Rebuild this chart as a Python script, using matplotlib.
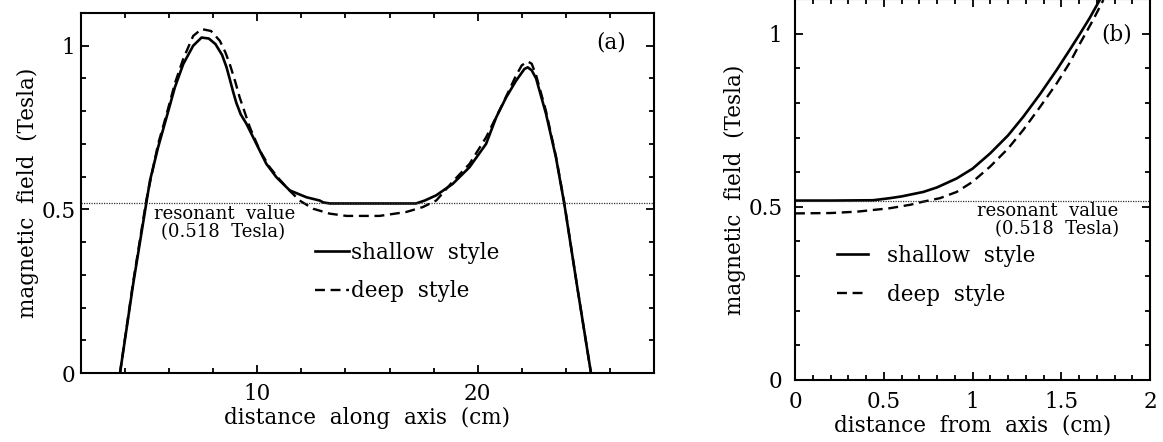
import matplotlib
matplotlib.use("Agg")
import matplotlib.pyplot as plt
from matplotlib.ticker import MultipleLocator, FixedLocator, FixedFormatter

plt.rcParams['font.family'] = ['DejaVu Serif']

# Field along the axis (panel a), cm vs Tesla
axial_x_shallow = [3.77, 4.37, 4.97, 5.13, 5.50, 5.88, 6.26, 6.64, 7.09, 7.47, 7.80, 8.10,
                   8.40, 8.60, 8.75, 8.90, 9.05, 9.25, 9.51, 9.96, 10.41, 10.87, 11.47,
                   12.23, 12.83, 13.0, 13.3, 17.2, 17.6, 18.12, 18.87, 19.63, 20.38, 20.84,
                   21.29, 21.74, 22.12, 22.27, 22.45, 22.65, 23.10, 23.55, 23.93, 24.5, 25.14]
axial_b_shallow = [0.0, 0.273, 0.522, 0.588, 0.690, 0.781, 0.873, 0.944, 1.0, 1.025, 1.022, 1.005,
                   0.972, 0.935, 0.898, 0.860, 0.825, 0.790, 0.761, 0.700, 0.639, 0.598, 0.558,
                   0.537, 0.527, 0.521, 0.518, 0.518, 0.527, 0.543, 0.578, 0.629, 0.700, 0.781,
                   0.842, 0.893, 0.929, 0.934, 0.925, 0.900, 0.792, 0.659, 0.517, 0.27, 0.0]

axial_x_deep = [3.77, 4.37, 4.97, 5.50, 5.88, 6.26, 6.64, 7.09, 7.47, 7.90, 8.30, 8.55, 8.75,
                9.0, 9.20, 9.66, 10.11, 10.56, 11.0, 11.5, 11.92, 12.53, 13.28, 14.04, 15.55,
                16.76, 17.51, 18.12, 18.87, 19.63, 20.38, 21.13, 21.74, 22.0, 22.27,
                22.45, 22.65, 23.10, 23.55, 23.93, 24.5, 25.14]
axial_b_deep = [0.0, 0.28, 0.53, 0.70, 0.79, 0.885, 0.96, 1.03, 1.051, 1.045, 1.015, 0.980, 0.944,
                0.890, 0.842, 0.751, 0.680, 0.629, 0.592, 0.555, 0.527, 0.502, 0.487, 0.480, 0.480,
                0.492, 0.507, 0.527, 0.585, 0.639, 0.720, 0.822, 0.909, 0.940, 0.952,
                0.945, 0.910, 0.800, 0.662, 0.520, 0.27, 0.0]

# Field versus radius (panel b), cm vs Tesla
radial_r_shallow = [0.0, 0.2, 0.44, 0.535, 0.6, 0.723, 0.8, 0.911, 1.0, 1.099, 1.2,
                    1.286, 1.38, 1.474, 1.55, 1.606, 1.66, 1.72]
radial_b_shallow = [0.518, 0.518, 0.519, 0.525, 0.530, 0.543, 0.556, 0.582, 0.610, 0.654,
                    0.706, 0.760, 0.825, 0.895, 0.955, 1.0, 1.045, 1.10]

radial_r_deep = [0.0, 0.2, 0.35, 0.535, 0.65, 0.723, 0.817, 0.911, 1.0, 1.099, 1.2,
                 1.286, 1.38, 1.474, 1.55, 1.606, 1.68, 1.737]
radial_b_deep = [0.481, 0.482, 0.486, 0.496, 0.506, 0.515, 0.525, 0.543, 0.572, 0.616,
                 0.668, 0.722, 0.788, 0.856, 0.918, 0.972, 1.04, 1.097]

resonant_b = 0.518
series_labels = ["shallow  style", "deep  style"]

FS = 15.5
DASH = (0, (4.2, 2.4))

fig = plt.figure(figsize=(11.63, 4.42), dpi=100)
ax_a = fig.add_axes([81 / 1163, 69 / 442, 573 / 1163, 360 / 442])
ax_b = fig.add_axes([795 / 1163, 62 / 442, 355 / 1163, 381 / 442])


def style_axes(ax):
    for s in ax.spines.values():
        s.set_linewidth(1.5)
    ax.tick_params(which='both', direction='in', top=True, right=True,
                   width=1.3, labelsize=FS)
    ax.tick_params(which='major', length=6)
    ax.tick_params(which='minor', length=3.5)


# ---- panel (a)
style_axes(ax_a)
la, = ax_a.plot(axial_x_shallow, axial_b_shallow, color='black', lw=1.9)
lb, = ax_a.plot(axial_x_deep, axial_b_deep, color='black', lw=1.7, linestyle=DASH)
ax_a.axhline(resonant_b, color='#333333', lw=0.9, linestyle=(0, (1, 1)))
ax_a.set_xlim(2, 28)
ax_a.set_ylim(0, 1.1)
ax_a.xaxis.set_major_locator(MultipleLocator(10))
ax_a.xaxis.set_minor_locator(MultipleLocator(2))
ax_a.yaxis.set_major_locator(FixedLocator([0, 0.5, 1]))
ax_a.yaxis.set_major_formatter(FixedFormatter(["0", "0.5", "1"]))
ax_a.yaxis.set_minor_locator(MultipleLocator(0.1))
ax_a.tick_params(axis='x', which='major', pad=7.5)
ax_a.tick_params(axis='y', which='major', pad=4)
ax_a.set_xlabel("distance  along  axis  (cm)", fontsize=FS, labelpad=1)
ax_a.set_ylabel("magnetic  field  (Tesla)", fontsize=FS, labelpad=2)
ax_a.text(8.5, 0.487, "resonant  value", fontsize=13, ha='center', va='center')
ax_a.text(8.45, 0.431, "(0.518  Tesla)", fontsize=13, ha='center', va='center')
ax_a.text(0.926, 0.917, "(a)", transform=ax_a.transAxes, fontsize=FS,
          ha='center', va='center')
ax_a.legend([la, lb], series_labels, loc='upper left', bbox_to_anchor=(0.408, 0.365),
            frameon=False, handlelength=1.6, handletextpad=0.1, labelspacing=0.78,
            borderpad=0, borderaxespad=0, fontsize=FS)

# ---- panel (b)
style_axes(ax_b)
lc, = ax_b.plot(radial_r_shallow, radial_b_shallow, color='black', lw=1.9)
ld, = ax_b.plot(radial_r_deep, radial_b_deep, color='black', lw=1.7, linestyle=DASH)
ax_b.axhline(resonant_b, color='#333333', lw=0.9, linestyle=(0, (1, 1)))
ax_b.set_xlim(0, 2)
ax_b.set_ylim(0, 1.1)
ax_b.xaxis.set_major_locator(FixedLocator([0, 0.5, 1, 1.5, 2]))
ax_b.xaxis.set_major_formatter(FixedFormatter(["0", "0.5", "1", "1.5", "2"]))
ax_b.xaxis.set_minor_locator(MultipleLocator(0.1))
ax_b.yaxis.set_major_locator(FixedLocator([0, 0.5, 1]))
ax_b.yaxis.set_major_formatter(FixedFormatter(["0", "0.5", "1"]))
ax_b.yaxis.set_minor_locator(MultipleLocator(0.1))
ax_b.tick_params(axis='x', which='major', pad=8)
ax_b.tick_params(axis='y', which='major', pad=9)
ax_b.set_xlabel("distance  from  axis  (cm)", fontsize=FS, labelpad=1)
ax_b.set_ylabel("magnetic  field  (Tesla)", fontsize=FS, labelpad=2)
ax_b.text(1.423, 0.488, "resonant  value", fontsize=13, ha='center', va='center')
ax_b.text(1.479, 0.437, "(0.518  Tesla)", fontsize=13, ha='center', va='center')
ax_b.text(0.906, 0.906, "(b)", transform=ax_b.transAxes, fontsize=FS,
          ha='center', va='center')
ax_b.legend([lc, ld], series_labels, loc='upper left', bbox_to_anchor=(0.118, 0.355),
            frameon=False, handlelength=1.45, handletextpad=0.9, labelspacing=0.78,
            borderpad=0, borderaxespad=0, fontsize=FS)

fig.savefig("out.png", dpi=100)
